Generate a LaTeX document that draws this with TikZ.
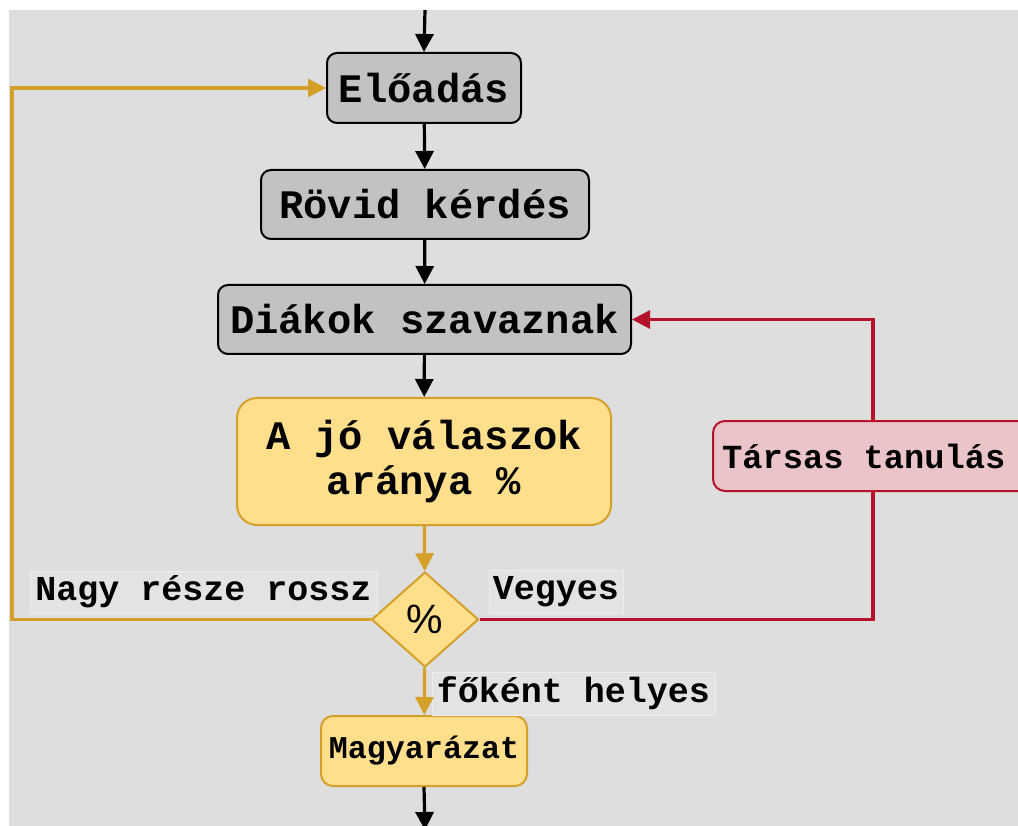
\documentclass[tikz,border=0pt]{standalone}
\usepackage{fontspec}
\setmonofont{Liberation Mono}
\setsansfont{Liberation Sans}
\usetikzlibrary{arrows.meta,shapes.geometric}
\definecolor{bg}{HTML}{DEDEDE}
\definecolor{grayfill}{HTML}{C2C2C2}
\definecolor{goldfill}{HTML}{FFDE8C}
\definecolor{goldline}{HTML}{D4A02A}
\definecolor{redline}{HTML}{B5122B}
\definecolor{pinkfill}{HTML}{EBC4C9}
\definecolor{lblfill}{HTML}{E3E3E3}
\definecolor{lbldraw}{HTML}{EEEEEE}
\tikzset{
  graybox/.style={draw=black, line width=2pt, fill=grayfill, rounded corners=10pt,
    inner sep=0pt, font=\fontsize{40.5}{45}\selectfont\ttfamily\bfseries, align=center},
  goldbox/.style={draw=goldline, line width=2pt, fill=goldfill, rounded corners=12pt,
    inner sep=0pt, align=center},
  pinkbox/.style={draw=redline, line width=2pt, fill=pinkfill, rounded corners=12pt,
    inner sep=0pt, font=\fontsize{33.7}{38}\selectfont\ttfamily\bfseries},
  lbl/.style={draw=lbldraw, line width=0.8pt, fill=lblfill, inner sep=0pt,
    font=\fontsize{35}{40}\selectfont\ttfamily\bfseries},
  blk/.style={draw=black, line width=3.2pt, -{Triangle[length=18pt,width=18pt]}},
  gld/.style={draw=goldline, line width=3.2pt, -{Triangle[length=18pt,width=18pt]}},
  rd/.style={draw=redline, line width=3.2pt, -{Triangle[length=18pt,width=18pt]}},
}
\begin{document}
\begin{tikzpicture}[x=1pt,y=-1pt]
\useasboundingbox (0,0) rectangle (1018,826);
\clip (0,0) rectangle (1018,826);
\fill[white] (0,0) rectangle (1018,826);
\fill[bg] (9,10) rectangle (1018,826);

\node[graybox, minimum width=194pt, minimum height=70pt] (elo) at (424,88) {Előadás};
\node[graybox, minimum width=328pt, minimum height=69pt] (rov) at (425,204.5) {Rövid kérdés};
\node[graybox, minimum width=413pt, minimum height=69pt] (dia) at (424.5,319.5) {Diákok szavaznak};
\node[goldbox, minimum width=374pt, minimum height=127pt, rounded corners=20pt,
  font=\fontsize{40.5}{45}\selectfont\ttfamily\bfseries] (ajo) at (424,461.5) {A jó válaszok\\aránya \%};
\node[diamond, draw=goldline, line width=2pt, fill=goldfill, inner sep=0pt,
  minimum width=107pt, minimum height=95pt, font=\fontsize{41}{42}\selectfont\sffamily] (pct) at (425,619.5) {\%};
\node[goldbox, minimum width=206pt, minimum height=70pt,
  font=\fontsize{31.7}{36}\selectfont\ttfamily\bfseries] (mag) at (424,751) {Magyarázat};
\node[pinkbox, minimum width=320pt, minimum height=70pt] (tar) at (873,456) {};
\node[font=\fontsize{33.7}{38}\selectfont\ttfamily\bfseries, anchor=west, inner sep=0pt] (tartxt) at (722,456) {Társas tanulás};

\node[lbl, minimum width=347pt, minimum height=42pt] (lnagy) at (203.5,592) {Nagy része rossz};
\node[lbl, minimum width=134pt, minimum height=43pt] (lveg) at (556,591.5) {Vegyes};
\node[lbl, minimum width=283pt, minimum height=43pt] (lfok) at (573.5,693.5) {főként helyes};

\coordinate (top) at (425,10);
\coordinate (bot) at (425,830);
\coordinate (lft) at (12,619.5);

\draw[blk] (top) -- (elo.north);
\draw[blk] (elo) -- (rov);
\draw[blk] (rov) -- (dia);
\draw[blk] (dia) -- (ajo);
\draw[gld] (ajo) -- (pct);
\draw[gld] (pct) -- (mag);
\draw[blk] (mag.south) -- (bot);
\draw[gld] (pct.west) -- (lft) |- (elo.west);
\draw[draw=redline, line width=3.2pt] (pct.east) -| (tar.south);
\draw[rd] (tar.north) |- (dia.east);
\end{tikzpicture}
\end{document}
